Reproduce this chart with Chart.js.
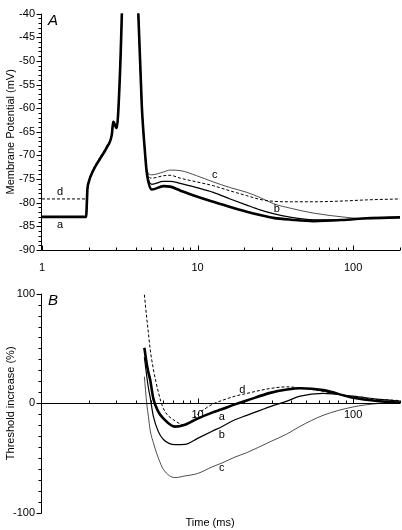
<!DOCTYPE html>
<html>
<head>
<meta charset="utf-8">
<script src="https://cdn.jsdelivr.net/npm/chart.js@4.4.1/dist/chart.umd.min.js"></script>
<style>
  body { margin: 0; background: #fff; width: 402px; height: 530px; overflow: hidden; position: relative; }
  canvas { position: absolute; left: 0; }
  #chartA { top: 0; }
  #chartB { top: 280px; }
</style>
</head>
<body>
<canvas id="chartA" width="402" height="280"></canvas>
<canvas id="chartB" width="402" height="250"></canvas>
<script>
// ---- data ----
// Panel A: membrane potential (mV) vs time (ms)
const timeA = [1, 1.92, 1.96, 1.99, 2.14, 2.36, 2.61, 2.81, 2.87, 3.02, 3.09, 3.26, 3.6, 4.16, 4.38, 4.6, 4.71, 5.08, 6.03, 6.66, 7.72, 9.88, 12.6, 16.2, 20.7, 25.2, 30.7, 40, 55.6, 91, 122, 200];
const potA_a = [-83, -83, -77, -75.8, -73.1, -70.7, -68.3, -65.6, -62.9, -64.2, -60.9, -40, 30, -40, -59.5, -69.7, -73.5, -77.2, -76.5, -76.6, -77.4, -78.7, -79.8, -80.9, -81.9, -82.6, -83.2, -83.6, -83.9, -83.6, -83.3, -83.1];
const potA_b = [-83, -83, -77, -75.8, -73.1, -70.7, -68.3, -65.6, -62.9, -64.2, -60.9, -40, 30, -40, -59.5, -69.7, -73.3, -76.1, -75.5, -75.5, -75.9, -76.8, -77.8, -79.2, -80.5, -81.5, -82.3, -83.1, -83.6, -83.6, -83.3, -83.1];
const potA_c = [-83, -83, -77, -75.8, -73.1, -70.7, -68.3, -65.6, -62.9, -64.2, -60.9, -40, 30, -40, -59.5, -69.7, -73, -74.1, -73.5, -73.1, -73.2, -74.3, -75.6, -76.8, -77.8, -78.9, -80.2, -81.2, -82.2, -83.1, -83.4, -83.1];
const potA_d = [-79.2, -79.2, -77, -75.6, -72.8, -70.4, -68, -65.3, -62.6, -63.9, -60.6, -40, 30, -40, -59.5, -69.7, -73.2, -74.8, -74.3, -74.2, -74.8, -75.6, -76.4, -77.5, -78.5, -79.3, -79.7, -79.8, -79.8, -79.6, -79.4, -79.2];

// Panel B: threshold increase (%) vs time (ms)
const timeB = [4.55, 4.71, 4.83, 4.95, 5.2, 5.6, 6.03, 7.17, 8.3, 10, 12.4, 14.3, 17.4, 20.7, 29.3, 37.5, 45.6, 64, 100, 149, 200];
const thrB_a = [50.6, 36, 28, 22, 4, -7.8, -13.8, -21.3, -19.5, -14, -8.5, -5.5, -1, 2.5, 9.5, 12.5, 13.7, 12, 5, 1.8, 0.5];
const thrB_b = [42, 25, 14, 6, -12, -26, -33, -37.7, -37.5, -32, -25.5, -21.3, -15, -11, -3, 2, 6.5, 9, 6.5, 3.5, 2];
const thrB_c = [24.3, 0, -12, -24, -36, -50, -60.2, -67.7, -66.2, -64, -58, -54.5, -49, -45, -35, -28, -21, -11, -3.3, 0, 1];
const thrB_d = [99, 78, 64, 50, 31, 10, -4.8, -16, -19.8, -10, -1, 2.5, 6.5, 9, 13.5, 15, 14, 11, 5.5, 3.5, 2.5];

// axis ticks
const xTicksA = [1, 10, 100];
const xTicksB = [10, 100];
const xMinor = [2, 3, 4, 5, 6, 7, 8, 9, 20, 30, 40, 50, 60, 70, 80, 90, 200];
const yTicksA = [-40, -45, -50, -55, -60, -65, -70, -75, -80, -85, -90];
const yTicksB = [100, 0, -100];

Chart.defaults.font.family = '"Liberation Sans", Arial, sans-serif';
Chart.defaults.font.size = 11;
Chart.defaults.color = '#000';

const pts = (t, v) => t.map((x, i) => ({ x: x, y: v[i] }));

function series(t, v, width, dash) {
  return {
    data: pts(t, v),
    borderColor: '#000',
    borderWidth: width,
    borderDash: dash || [],
    pointRadius: 0,
    fill: false,
    cubicInterpolationMode: 'monotone'
  };
}

// axis lines, inward x ticks, outward y ticks, panel letter and curve labels
const axesPlugin = {
  id: 'axes',
  afterDatasetsDraw(chart, args, o) {
    const { ctx, chartArea: ca, scales: { x, y } } = chart;
    ctx.save();
    ctx.strokeStyle = '#000';
    ctx.lineWidth = 1;
    const ax = Math.round(ca.left) - 0.5;
    const ay = Math.round(y.getPixelForValue(o.xAt)) + 0.5;
    ctx.beginPath();
    ctx.moveTo(ax, ca.top); ctx.lineTo(ax, ca.bottom);
    ctx.moveTo(ax, ay); ctx.lineTo(ca.right, ay);
    o.xMajor.forEach(v => {
      const p = Math.round(x.getPixelForValue(v)) + 0.5;
      ctx.moveTo(p, ay); ctx.lineTo(p, ay - 5);
    });
    xMinor.forEach(v => {
      const p = Math.round(x.getPixelForValue(v)) + 0.5;
      ctx.moveTo(p, ay); ctx.lineTo(p, ay - 3);
    });
    o.yMajor.forEach(v => {
      const p = Math.round(y.getPixelForValue(v)) + 0.5;
      ctx.moveTo(ax, p); ctx.lineTo(ax - 5, p);
    });
    for (let v = y.min; v <= y.max; v += o.yStep) {
      const p = Math.round(y.getPixelForValue(v)) + 0.5;
      ctx.moveTo(ax, p); ctx.lineTo(ax - 3, p);
    }
    ctx.stroke();

    ctx.fillStyle = '#000';
    ctx.font = 'italic 15px "Liberation Sans", Arial, sans-serif';
    ctx.textAlign = 'left';
    ctx.textBaseline = 'alphabetic';
    ctx.fillText(o.letter, ca.left + 6, ca.top + 11);

    ctx.font = '11px "Liberation Sans", Arial, sans-serif';
    ctx.textAlign = 'center';
    ctx.textBaseline = 'middle';
    o.labels.forEach(l => ctx.fillText(l[0], x.getPixelForValue(l[1]), y.getPixelForValue(l[2])));
    if (o.title) {
      ctx.fillText(o.title, (ca.left + ca.right) / 2 - 11, ca.bottom + 10);
    }
    ctx.restore();
  }
};

function xScale(ticksList, pad, extra) {
  return Object.assign({
    type: 'logarithmic',
    min: 1,
    max: 200,
    grid: { display: false, drawTicks: false },
    border: { display: false },
    afterBuildTicks: s => { s.ticks = ticksList.map(v => ({ value: v })); },
    ticks: { autoSkip: false, maxRotation: 0, padding: pad, callback: v => String(v) }
  }, extra);
}

function yScale(min, max, ticksList, title) {
  return {
    min: min,
    max: max,
    grid: { display: false, drawTicks: false },
    border: { display: false },
    afterBuildTicks: s => { s.ticks = ticksList.map(v => ({ value: v })); },
    afterFit: s => { s.width = 42; },
    ticks: { padding: 7 },
    title: { display: true, text: title, font: { size: 11 }, padding: { top: 4, bottom: 4 } }
  };
}

new Chart(document.getElementById('chartA'), {
  type: 'line',
  data: {
    datasets: [
      series(timeA, potA_c, 0.7),
      series(timeA, potA_b, 1.2),
      series(timeA, potA_d, 1, [3, 2]),
      series(timeA, potA_a, 2.6)
    ]
  },
  options: {
    responsive: false,
    animation: false,
    events: [],
    layout: { padding: { top: 4, right: 2, left: 0, bottom: 0 } },
    plugins: {
      legend: { display: false },
      tooltip: { enabled: false },
      axes: {
        xAt: -90, xMajor: xTicksA, yMajor: yTicksA, yStep: 1, letter: 'A',
        labels: [['d', 1.306, -77.8], ['a', 1.306, -84.6], ['c', 12.9, -74.2], ['b', 32.3, -81.3]]
      }
    },
    scales: {
      x: xScale(xTicksA, 11, { afterFit: s => { s.height = 30; } }),
      y: yScale(-90, -40, yTicksA, 'Membrane Potential (mV)')
    }
  },
  plugins: [axesPlugin]
});

new Chart(document.getElementById('chartB'), {
  type: 'line',
  data: {
    datasets: [
      series(timeB, thrB_c, 0.7),
      series(timeB, thrB_b, 1.2),
      series(timeB, thrB_d, 1, [3, 2]),
      series(timeB, thrB_a, 2.6)
    ]
  },
  options: {
    responsive: false,
    animation: false,
    events: [],
    layout: { padding: { top: 11, right: 2, left: 0, bottom: 17 } },
    plugins: {
      legend: { display: false },
      tooltip: { enabled: false },
      axes: {
        xAt: 0, xMajor: xTicksB, yMajor: yTicksB, yStep: 10, letter: 'B', title: 'Time (ms)',
        labels: [['d', 19.4, 12.6], ['a', 14.3, -12.9], ['b', 14.3, -28.8], ['c', 14.3, -58.5]]
      }
    },
    scales: {
      x: xScale(xTicksB, 5, { position: { y: 0 } }),
      y: yScale(-100, 100, yTicksB, 'Threshold increase (%)')
    }
  },
  plugins: [axesPlugin]
});
</script>
</body>
</html>
